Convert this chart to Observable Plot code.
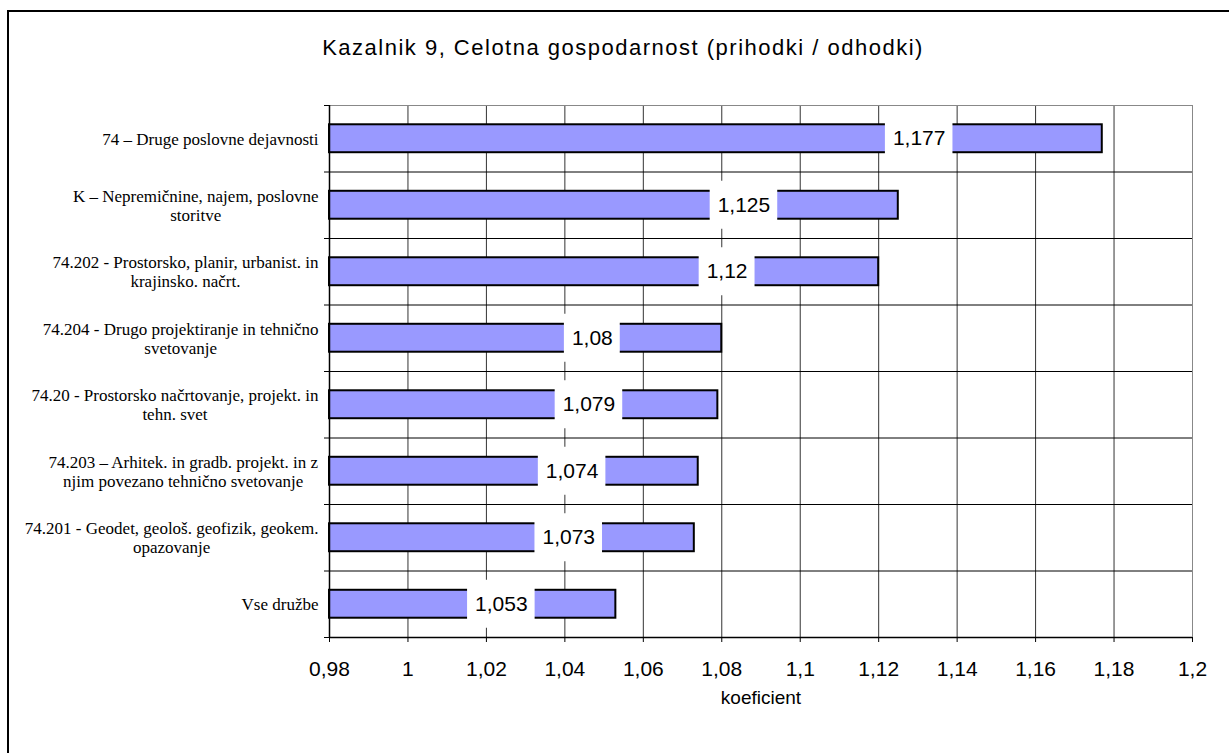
<!DOCTYPE html>
<html>
<head>
<meta charset="utf-8">
<script src="https://cdn.jsdelivr.net/npm/d3@7"></script>
<script src="https://cdn.jsdelivr.net/npm/@observablehq/plot@0.6"></script>
<style>
  html, body { margin: 0; padding: 0; background: #fff; overflow: hidden; width: 1229px; height: 753px; }
  #frame { position: absolute; left: 7px; top: 10px; width: 1300px; height: 800px; border-left: 2px solid #000; border-top: 2px solid #000; }
  #title { position: absolute; left: 0; top: 37px; width: 1246px; text-align: center; font-family: 'Liberation Sans', Arial, sans-serif; font-size: 22px; line-height: 22px; letter-spacing: 1.5px; color: #000; }
  #chart { position: absolute; left: 0; top: 80px; }
</style>
</head>
<body>
<div id="frame"></div>
<div id="title"></div>
<div id="chart"></div>
<script>
const titleText = "Kazalnik 9, Celotna gospodarnost (prihodki / odhodki)";
const axisTitle = "koeficient";
const categories = [
  "74 – Druge poslovne dejavnosti",
  "K – Nepremičnine, najem, poslovne\nstoritve",
  "74.202 - Prostorsko, planir, urbanist. in\nkrajinsko. načrt.",
  "74.204 - Drugo projektiranje in tehnično\nsvetovanje",
  "74.20 - Prostorsko načrtovanje, projekt. in\ntehn. svet",
  "74.203 – Arhitek. in gradb. projekt. in z\nnjim povezano tehnično svetovanje",
  "74.201 - Geodet, geološ. geofizik, geokem.\nopazovanje",
  "Vse družbe"
];
const values = [1.177, 1.125, 1.12, 1.08, 1.079, 1.074, 1.073, 1.053];
const tickValues = [0.98, 1, 1.02, 1.04, 1.06, 1.08, 1.1, 1.12, 1.14, 1.16, 1.18, 1.2];
const xDomain = [0.98, 1.2];

document.getElementById("title").textContent = titleText;

const fmt = v => String(v).replace(".", ",");
const W = 1229, H = 673, mL = 329, mR = 37, mT = 25, mB = 116;
const n = categories.length;
const pxPerUnit = (W - mL - mR) / (xDomain[1] - xDomain[0]);
const bandPx = (H - mT - mB) / n;
const ctx = document.createElement("canvas").getContext("2d");
const measure = (s, font) => { ctx.font = font; return ctx.measureText(s).width; };
const sansFont = "21px 'Liberation Sans'";
const serifSize = 17;
const serifFont = serifSize + "px 'Liberation Serif'";

const rows = categories.map((c, i) => ({c, i, v: values[i]}));
// Excel-like placement of the value label inside the bar
const labelX = v => xDomain[0] + 0.859 * (v - xDomain[0]) - 0.0189;
const boxHalfW = d => (measure(fmt(d.v), sansFont) + 15) / 2 / pxPerUnit;
const boxHalfH = 24 / bandPx;
const barPad = 0.29;

const yLabelMarks = rows.map(d => {
  const w = Math.max(...d.c.split("\n").map(s => measure(s, serifFont)));
  return Plot.text([d], {
    x: () => xDomain[0], y: r => r.i + 0.5, text: r => r.c,
    textAnchor: "middle", lineAnchor: "middle", lineHeight: 1.12,
    dx: -(11 + w / 2), fontFamily: "'Liberation Serif', 'Times New Roman', serif",
    fontSize: serifSize, fill: "#000"
  });
});

const chart = Plot.plot({
  width: W, height: H,
  marginLeft: mL, marginRight: mR, marginTop: mT, marginBottom: mB,
  style: { fontFamily: "'Liberation Sans', Arial, sans-serif", background: "transparent", overflow: "visible", color: "#000" },
  x: { domain: xDomain },
  y: { domain: [0, n], reverse: true },
  marks: [
    Plot.ruleX(tickValues.slice(1, -1), { y1: 0, y2: n, stroke: "#333", strokeWidth: 1 }),
    Plot.ruleX([xDomain[1]], { y1: 0, y2: n, stroke: "#888", strokeWidth: 1 }),
    Plot.ruleY(d3.range(1, n), { x1: xDomain[0], x2: xDomain[1], stroke: "#000", strokeWidth: 1 }),
    Plot.ruleY([0], { x1: xDomain[0], x2: xDomain[1], stroke: "#888", strokeWidth: 1 }),
    Plot.rect(rows, {
      x1: () => xDomain[0], x2: d => d.v,
      y1: d => d.i + barPad, y2: d => d.i + 1 - barPad,
      fill: "#9999ff", stroke: "#000", strokeWidth: 2
    }),
    Plot.rect(rows, {
      x1: d => labelX(d.v) - boxHalfW(d), x2: d => labelX(d.v) + boxHalfW(d),
      y1: d => d.i + 0.5 - boxHalfH, y2: d => d.i + 0.5 + boxHalfH,
      fill: "#fff"
    }),
    Plot.text(rows, {
      x: d => labelX(d.v), y: d => d.i + 0.5, text: d => fmt(d.v),
      fontSize: 21, fill: "#000", lineAnchor: "middle"
    }),
    Plot.ruleX([xDomain[0]], { y1: 0, y2: n, stroke: "#000", strokeWidth: 1.5 }),
    Plot.ruleY([n], { x1: xDomain[0], x2: xDomain[1], stroke: "#000", strokeWidth: 1.5 }),
    Plot.axisX(tickValues, { tickFormat: fmt, tickSize: 5, tickPadding: 19, fontSize: 21, label: null, stroke: "#000", color: "#000" }),
    Plot.axisY(d3.range(n + 1), { tickFormat: () => "", tickSize: 5, label: null, stroke: "#000" }),
    ...yLabelMarks,
    Plot.text([axisTitle], { frameAnchor: "bottom", dy: 60, lineAnchor: "middle", fontSize: 19, fill: "#000" })
  ]
});
document.getElementById("chart").appendChild(chart);
</script>
</body>
</html>
